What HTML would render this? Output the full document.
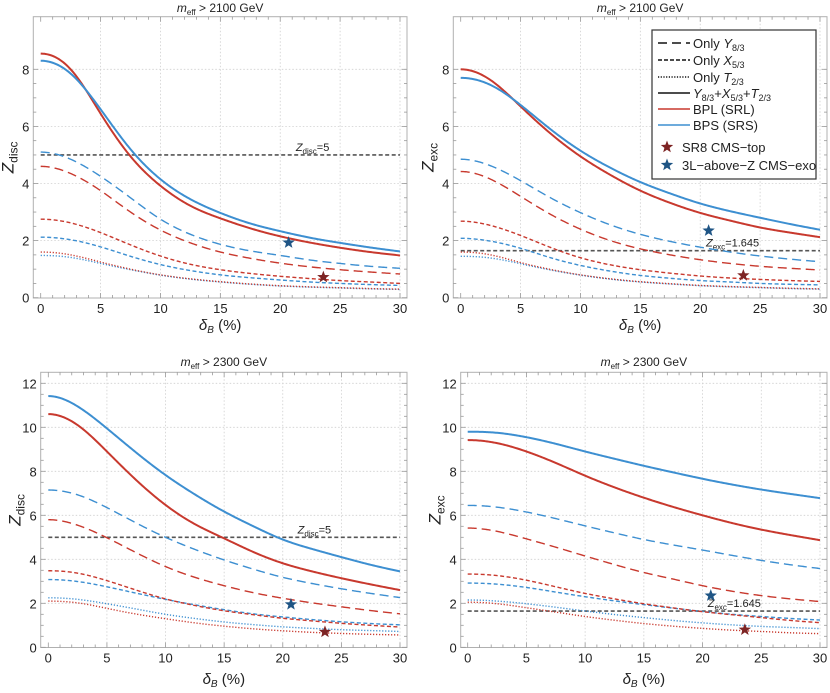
<!DOCTYPE html>
<html><head><meta charset="utf-8">
<style>
html,body{margin:0;padding:0;background:#fff;}
svg{display:block;font-family:"Liberation Sans",sans-serif;}
</style></head>
<body>
<svg id="fig" width="830" height="693" viewBox="0 0 830 693" xmlns="http://www.w3.org/2000/svg"></svg>
<script>
const NS="http://www.w3.org/2000/svg";
const deltaB=[0,2.5,5,7.5,10,12.5,15,17.5,20,22.5,25,27.5,30];
// Panel TL: Zdisc, meff>2100
const tlBPS=[8.3,7.85,6.6,5.2,4.15,3.45,2.97,2.6,2.33,2.1,1.92,1.76,1.62];
const tlBPL=[8.55,8.0,6.45,4.95,3.92,3.22,2.78,2.43,2.15,1.93,1.75,1.6,1.48];
const tlYBPS=[5.1,4.85,4.25,3.5,2.75,2.22,1.87,1.64,1.48,1.32,1.2,1.1,1.03];
const tlYBPL=[4.6,4.35,3.75,3.0,2.37,1.92,1.6,1.38,1.21,1.08,0.98,0.9,0.83];
const tlXBPL=[2.75,2.62,2.28,1.85,1.46,1.17,0.98,0.85,0.75,0.67,0.6,0.55,0.5];
const tlXBPS=[2.12,2.03,1.78,1.45,1.16,0.95,0.8,0.7,0.62,0.55,0.5,0.46,0.43];
const tlTBPL=[1.6,1.5,1.25,1.0,0.8,0.66,0.56,0.48,0.42,0.38,0.35,0.32,0.3];
const tlTBPS=[1.48,1.41,1.2,0.98,0.79,0.65,0.55,0.47,0.41,0.37,0.34,0.31,0.29];
const tlStars=[[20.7,1.93],[23.6,0.72]];
// Panel TR: Zexc, meff>2100
const trBPS=[7.7,7.45,6.75,5.9,5.15,4.55,4.05,3.65,3.3,3.03,2.8,2.58,2.38];
const trBPL=[8.0,7.62,6.7,5.75,4.95,4.3,3.75,3.32,2.97,2.7,2.46,2.28,2.12];
const trYBPS=[4.85,4.62,4.1,3.5,2.98,2.55,2.22,1.97,1.77,1.6,1.46,1.35,1.26];
const trYBPL=[4.42,4.15,3.55,2.92,2.4,2.0,1.71,1.5,1.33,1.2,1.1,1.03,0.97];
const trXBPL=[2.68,2.53,2.18,1.76,1.4,1.15,0.98,0.86,0.76,0.69,0.64,0.6,0.57];
const trXBPS=[2.08,1.98,1.73,1.4,1.13,0.93,0.78,0.68,0.6,0.55,0.5,0.47,0.45];
const trTBPL=[1.6,1.5,1.23,0.99,0.8,0.66,0.56,0.49,0.43,0.39,0.36,0.33,0.31];
const trTBPS=[1.45,1.39,1.19,0.97,0.79,0.65,0.55,0.48,0.42,0.38,0.35,0.32,0.3];
const trStars=[[20.7,2.35],[23.6,0.78]];
// Panel BL: Zdisc, meff>2300
const blBPS=[11.42,10.95,9.95,8.85,7.83,6.95,6.17,5.5,4.9,4.47,4.1,3.75,3.45];
const blBPL=[10.6,10.1,8.9,7.6,6.47,5.6,4.95,4.33,3.82,3.45,3.14,2.86,2.6];
const blYBPS=[7.15,6.93,6.35,5.65,5.0,4.45,3.97,3.55,3.18,2.9,2.66,2.45,2.26];
const blYBPL=[5.8,5.55,4.98,4.3,3.67,3.18,2.8,2.48,2.23,2.02,1.84,1.67,1.52];
const blXBPL=[3.48,3.37,3.03,2.6,2.2,1.9,1.66,1.48,1.32,1.2,1.09,1.0,0.92];
const blXBPS=[3.08,2.99,2.75,2.46,2.18,1.93,1.71,1.52,1.38,1.26,1.16,1.08,1.02];
const blTBPS=[2.25,2.18,1.98,1.74,1.5,1.31,1.15,1.03,0.93,0.86,0.8,0.76,0.72];
const blTBPL=[2.1,2.02,1.77,1.51,1.3,1.11,0.96,0.84,0.75,0.68,0.63,0.59,0.56];
const blStars=[[20.7,1.95],[23.6,0.7]];
// Panel BR: Zexc, meff>2300
const brBPS=[9.8,9.75,9.55,9.25,8.9,8.57,8.25,7.95,7.66,7.4,7.17,6.97,6.78];
const brBPL=[9.42,9.28,8.9,8.38,7.8,7.27,6.8,6.38,6.0,5.65,5.35,5.1,4.87];
const brYBPS=[6.45,6.37,6.15,5.85,5.52,5.2,4.9,4.65,4.42,4.18,3.95,3.75,3.58];
const brYBPL=[5.42,5.27,4.93,4.55,4.15,3.76,3.4,3.1,2.8,2.55,2.35,2.2,2.08];
const brXBPL=[3.33,3.26,3.05,2.75,2.45,2.2,1.98,1.79,1.62,1.48,1.35,1.22,1.12];
const brXBPS=[2.92,2.87,2.72,2.51,2.3,2.11,1.94,1.78,1.63,1.5,1.4,1.31,1.24];
const brTBPS=[2.15,2.1,1.98,1.82,1.65,1.49,1.35,1.22,1.11,1.02,0.95,0.9,0.85];
const brTBPL=[2.05,1.98,1.8,1.6,1.4,1.23,1.08,0.96,0.86,0.78,0.72,0.66,0.62];
const brStars=[[20.7,2.35],[23.6,0.8]];
const xTicks=[0,5,10,15,20,25,30];
const yTicksTop=[0,2,4,6,8];
const yTicksBot=[0,2,4,6,8,10,12];

const RED="#c8392e", BLUE="#3d8fd1", SRED="#7d2424", SBLUE="#1f5585";
const svg=document.getElementById('fig');
function el(tag,attrs,parent){const e=document.createElementNS(NS,tag);for(const k in attrs)e.setAttribute(k,attrs[k]);(parent||svg).appendChild(e);return e;}

function starPath(cx,cy,r){let d="";for(let i=0;i<10;i++){const a=-Math.PI/2+i*Math.PI/5;const rr=i%2?r*0.42:r;d+=(i?"L":"M")+(cx+rr*Math.cos(a)).toFixed(2)+","+(cy+rr*Math.sin(a)).toFixed(2);}return d+"Z";}

// cubic spline: clamped slope 0 at start, natural at end
function spline(xs,ys){
  const n=xs.length, h=[];for(let i=0;i<n-1;i++)h.push(xs[i+1]-xs[i]);
  const a=new Array(n).fill(0),b=new Array(n).fill(0),c=new Array(n).fill(0),d=new Array(n).fill(0);
  b[0]=2*h[0];c[0]=h[0];d[0]=6*((ys[1]-ys[0])/h[0]-0);
  for(let i=1;i<n-1;i++){a[i]=h[i-1];b[i]=2*(h[i-1]+h[i]);c[i]=h[i];d[i]=6*((ys[i+1]-ys[i])/h[i]-(ys[i]-ys[i-1])/h[i-1]);}
  b[n-1]=1;d[n-1]=0;a[n-1]=0;
  for(let i=1;i<n;i++){const m=a[i]/b[i-1];b[i]-=m*c[i-1];d[i]-=m*d[i-1];}
  const M=new Array(n);M[n-1]=d[n-1]/b[n-1];for(let i=n-2;i>=0;i--)M[i]=(d[i]-c[i]*M[i+1])/b[i];
  return x=>{let i=Math.min(n-2,Math.max(0,Math.floor((x-xs[0])/h[0])));const t=x-xs[i],hh=h[i];
    const A=(xs[i+1]-x)/hh,B=t/hh;return A*ys[i]+B*ys[i+1]+((A*A*A-A)*M[i]+(B*B*B-B)*M[i+1])*hh*hh/6;};
}

function panel(cfg){
  const g=el('g',{});
  
  
  const X=v=>cfg.x0+(v-0)*(cfg.x30-cfg.x0)/30;
  const Y=v=>cfg.y0-v*cfg.py;
  const L=cfg.fl,R=cfg.fr,T=cfg.ft,B=cfg.fb;
  for(const t of xTicks){if(t===0)continue;const l=el('line',{x1:X(t),x2:X(t),y1:T,y2:B,stroke:"#cfcfcf","stroke-width":0.8,"stroke-dasharray":"1.5,2"},g);}
  for(const t of cfg.yt){if(t===0)continue;const l=el('line',{x1:L,x2:R,y1:Y(t),y2:Y(t),stroke:"#cfcfcf","stroke-width":0.8,"stroke-dasharray":"1.5,2"},g);}
  const fr=el('rect',{x:L,y:T,width:R-L,height:B-T,fill:"none",stroke:"#b0b0b0","stroke-width":1},g);
  
  for(let v=0;v<=30;v++){const maj=v%5===0;const l=el('line',{x1:X(v),x2:X(v),y1:B,y2:B-(maj?5:3),stroke:"#999","stroke-width":0.8},g);
    const l2=el('line',{x1:X(v),x2:X(v),y1:T,y2:T+(maj?5:3),stroke:"#999","stroke-width":0.8},g);}
  const ymax=cfg.yt[cfg.yt.length-1];
  for(let v=0;v<=ymax+0.01;v+=0.5){const maj=Math.abs(v%2)<0.01;const l=el('line',{x1:L,x2:L+(maj?5:3),y1:Y(v),y2:Y(v),stroke:"#999","stroke-width":0.8},g);
    const l2=el('line',{x1:R,x2:R-(maj?5:3),y1:Y(v),y2:Y(v),stroke:"#999","stroke-width":0.8},g);}
  for(const t of xTicks){const tx=el('text',{x:X(t),y:B+15,"text-anchor":"middle","font-size":13,fill:"#222"},g);tx.textContent=t;}
  for(const t of cfg.yt){const tx=el('text',{x:L-4,y:Y(t)+5,"text-anchor":"end","font-size":13,fill:"#222"},g);tx.textContent=t;}
  const ti=el('text',{x:(L+R)/2,y:cfg.titleY,"text-anchor":"middle","font-size":12,fill:"#222"},g);
  ti.innerHTML='<tspan font-style="italic">m</tspan><tspan font-size="8" dy="3">eff</tspan><tspan dy="-3"> &gt; '+cfg.mass+' GeV</tspan>';
  
  const xl=el('text',{x:(L+R)/2,y:cfg.xlabY,"text-anchor":"middle","font-size":15,fill:"#222"},g);
  xl.innerHTML='<tspan font-style="italic">δ</tspan><tspan font-style="italic" font-size="10" dy="3">B</tspan><tspan dy="-3"> (%)</tspan>';
  
  const yc=(T+B)/2;
  const yl=el('text',{x:0,y:0,"text-anchor":"middle","font-size":17,fill:"#222",transform:`translate(${L-20},${yc}) rotate(-90)`},g);
  yl.innerHTML='<tspan font-style="italic">Z</tspan><tspan font-size="12" dy="4">'+cfg.sub+'</tspan>';
  
  const th=el('line',{x1:X(0),x2:X(30),y1:Y(cfg.thr),y2:Y(cfg.thr),stroke:"#555","stroke-width":1.6,"stroke-dasharray":"4,2.5"},g);
  
  const tl=el('text',{x:X(22.7),y:Y(cfg.thr)-4,"text-anchor":"middle","font-size":11,fill:"#222"},g);
  tl.innerHTML='<tspan font-style="italic">Z</tspan><tspan font-size="8" dy="3">'+cfg.sub+'</tspan><tspan dy="-3">='+cfg.thrTxt+'</tspan>';
  
  const series=[
    [cfg.tB,BLUE,"1.2,1.8",1.4,'bps-only-t23'],[cfg.tR,RED,"1.2,1.8",1.4,'bpl-only-t23'],
    [cfg.xB,BLUE,"4,2.5",1.4,'bps-only-x53'],[cfg.xR,RED,"4,2.5",1.4,'bpl-only-x53'],
    [cfg.yB,BLUE,"9,5",1.4,'bps-only-y83'],[cfg.yR,RED,"9,5",1.4,'bpl-only-y83'],
    [cfg.sR,RED,"",2,'bpl-total'],[cfg.sB,BLUE,"",2,'bps-total']];
  for(const [vals,c,da,w,nm] of series){
    const f=spline(deltaB,vals);let d="";
    for(let k=0;k<=300;k++){const x=k*0.1;d+=(k?"L":"M")+X(x).toFixed(2)+","+Y(f(x)).toFixed(2);}
    const p=el('path',{d:d,fill:"none",stroke:c,"stroke-width":w},g);
    if(da)p.setAttribute('stroke-dasharray',da);
    
  }
  const sc=[SBLUE,SRED];const sn=['star-3l-above-z','star-sr8-cms-top'];
  cfg.stars.forEach((s,i)=>{const st=el('path',{d:starPath(X(s[0]),Y(s[1]),6.5),fill:sc[i]},g);});
}

const topY={y0:297.7,py:28.55,ft:16.7,fb:298,yt:yTicksTop,titleY:12,xlabY:330};
const botY={y0:647.3,py:22,ft:372.3,fb:647.5,yt:yTicksBot,titleY:366,xlabY:684};
panel(Object.assign({name:'panel-zdisc-2100',x0:40.7,x30:400,fl:33.3,fr:407,mass:2100,sub:'disc',thr:5,thrTxt:'5',
  sB:tlBPS,sR:tlBPL,yB:tlYBPS,yR:tlYBPL,xB:tlXBPS,xR:tlXBPL,tB:tlTBPS,tR:tlTBPL,stars:tlStars},topY));
panel(Object.assign({name:'panel-zexc-2100',x0:460.7,x30:820,fl:453.3,fr:827,mass:2100,sub:'exc',thr:1.645,thrTxt:'1.645',
  sB:trBPS,sR:trBPL,yB:trYBPS,yR:trYBPL,xB:trXBPS,xR:trXBPL,tB:trTBPS,tR:trTBPL,stars:trStars},topY));
panel(Object.assign({name:'panel-zdisc-2300',x0:48.3,x30:400,fl:40.7,fr:407,mass:2300,sub:'disc',thr:5,thrTxt:'5',
  sB:blBPS,sR:blBPL,yB:blYBPS,yR:blYBPL,xB:blXBPS,xR:blXBPL,tB:blTBPS,tR:blTBPL,stars:blStars},botY));
panel(Object.assign({name:'panel-zexc-2300',x0:467.7,x30:820,fl:460.7,fr:827,mass:2300,sub:'exc',thr:1.645,thrTxt:'1.645',
  sB:brBPS,sR:brBPL,yB:brYBPS,yR:brYBPL,xB:brXBPS,xR:brXBPL,tB:brTBPS,tR:brTBPL,stars:brStars},botY));

const lg=el('g',{});

el('rect',{x:652,y:30,width:164,height:149,fill:"#fff",stroke:"#333","stroke-width":1.2},lg);
const legRows=[
 ['9,5',"#111",'Only <tspan font-style="italic">Y</tspan><tspan font-size="9" dy="3">8/3</tspan>',43],
 ['4,2',"#111",'Only <tspan font-style="italic">X</tspan><tspan font-size="9" dy="3">5/3</tspan>',60],
 ['1.2,1.5',"#111",'Only <tspan font-style="italic">T</tspan><tspan font-size="9" dy="3">2/3</tspan>',77],
 ['',"#111",'<tspan font-style="italic">Y</tspan><tspan font-size="9" dy="3">8/3</tspan><tspan dy="-3">+</tspan><tspan font-style="italic">X</tspan><tspan font-size="9" dy="3">5/3</tspan><tspan dy="-3">+</tspan><tspan font-style="italic">T</tspan><tspan font-size="9" dy="3">2/3</tspan>',93],
 ['',RED,'BPL (SRL)',109],
 ['',BLUE,'BPS (SRS)',125]];
const legNames=['legend-only-y83','legend-only-x53','legend-only-t23','legend-total','legend-bpl','legend-bps'];
legRows.forEach((r,i)=>{
  const ln=el('line',{x1:658,x2:690,y1:r[3],y2:r[3],stroke:r[1],"stroke-width":1.5},lg);
  if(r[0])ln.setAttribute('stroke-dasharray',r[0]);
  
  const t=el('text',{x:693,y:r[3]+5,"font-size":13,fill:"#222"},lg);t.innerHTML=r[2];
  
});
[[SRED,'SR8 CMS−top',147,'legend-sr8'],[SBLUE,'3L−above−Z CMS−exo',165,'legend-3l']].forEach(r=>{
  const s=el('path',{d:starPath(667,r[2],6.5),fill:r[0]},lg);
  const t=el('text',{x:682,y:r[2]+5,"font-size":13,fill:"#222"},lg);t.textContent=r[1];
  
});
</script>
</body></html>
